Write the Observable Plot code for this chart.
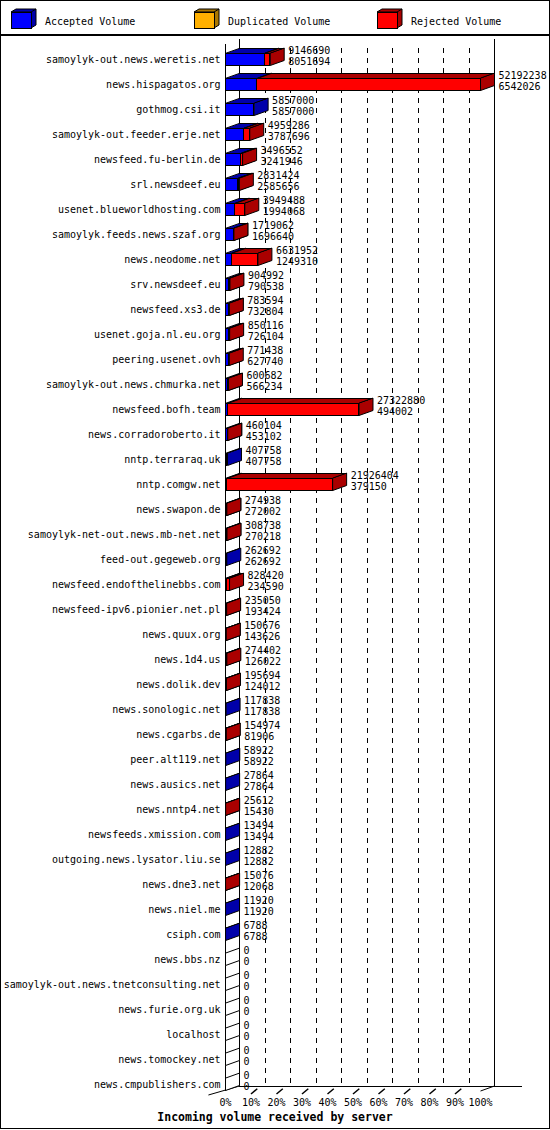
<!DOCTYPE html>
<html>
<head>
<meta charset="utf-8">
<script src="https://cdn.jsdelivr.net/npm/d3@7"></script>
<script src="https://cdn.jsdelivr.net/npm/@observablehq/plot@0.6"></script>
<style>
  body { margin: 0; background: #fff; font-family: "DejaVu Sans Mono", monospace; }
  #legend { width: 550px; height: 35px; box-sizing: border-box; border: 1px solid #000; }
  #legend svg { display: block; }
  #main { width: 550px; box-sizing: border-box; border: 1px solid #000; }
  #chart svg { display: block; }
  #title { height: 17px; line-height: 12px; text-align: center; font-weight: bold; font-size: 11.5px; }
</style>
</head>
<body>
<div id="legend"></div>
<div id="main">
  <div id="chart"></div>
  <div id="title">Incoming volume received by server</div>
</div>
<script>
const servers = [
    "samoylyk-out.news.weretis.net", "news.hispagatos.org", "gothmog.csi.it",
    "samoylyk-out.feeder.erje.net", "newsfeed.fu-berlin.de", "srl.newsdeef.eu",
    "usenet.blueworldhosting.com", "samoylyk.feeds.news.szaf.org", "news.neodome.net",
    "srv.newsdeef.eu", "newsfeed.xs3.de", "usenet.goja.nl.eu.org", "peering.usenet.ovh",
    "samoylyk-out.news.chmurka.net", "newsfeed.bofh.team", "news.corradoroberto.it",
    "nntp.terraraq.uk", "nntp.comgw.net", "news.swapon.de", "samoylyk-net-out.news.mb-net.net",
    "feed-out.gegeweb.org", "newsfeed.endofthelinebbs.com", "newsfeed-ipv6.pionier.net.pl",
    "news.quux.org", "news.1d4.us", "news.dolik.dev", "news.sonologic.net", "news.cgarbs.de",
    "peer.alt119.net", "news.ausics.net", "news.nntp4.net", "newsfeeds.xmission.com",
    "outgoing.news.lysator.liu.se", "news.dne3.net", "news.niel.me", "csiph.com",
    "news.bbs.nz", "samoylyk-out.news.tnetconsulting.net", "news.furie.org.uk",
    "localhost", "news.tomockey.net", "news.cmpublishers.com"
];
const totalVolume = [
    9146690, 52192238, 5857000, 4959286, 3496552, 2831424, 3949488, 1719062, 6631952,
    904992, 783594, 850116, 771438, 600682, 27322880, 460104, 407758, 21926404, 274938,
    308738, 262692, 828420, 235050, 150676, 274402, 195694, 117838, 154974, 58922, 27864,
    25612, 13494, 12882, 15076, 11920, 6788, 0, 0, 0, 0, 0, 0
];
const acceptedVolume = [
    8051694, 6542026, 5857000, 3787696, 3241946, 2585656, 1994068, 1696640, 1249310,
    790538, 732804, 726104, 627740, 566234, 494002, 453102, 407758, 379150, 272002,
    270218, 262692, 234590, 193424, 143626, 126022, 124012, 117838, 81906, 58922, 27864,
    15430, 13494, 12882, 12068, 11920, 6788, 0, 0, 0, 0, 0, 0
];
const percentTicks = [0, 10, 20, 30, 40, 50, 60, 70, 80, 90, 100];
const legendLabels = ["Accepted Volume", "Duplicated Volume", "Rejected Volume"];
const legendFront = ["#0000ff", "#ffb000", "#ff0000"];
const legendSide = ["#0000aa", "#aa7700", "#aa0000"];

// 3D look: depth of the bars in data units (14px across, 5px up)
const DX = 14 / 2.55;
const DY = 5 / 25;
const H = 0.24; // half bar thickness in rows
const floorFront = servers.length - 1 + H + 0.02;

const maxTotal = d3.max(totalVolume);
const rows = servers.map((name, i) => ({
    i,
    name,
    total: totalVolume[i],
    accepted: acceptedVolume[i],
    tot: (totalVolume[i] / maxTotal) * 100,
    acc: (acceptedVolume[i] / maxTotal) * 100,
}));

// split every server into its coloured segments
const segments = [];
rows.forEach((d) => {
    if (d.accepted > 0) segments.push({ i: d.i, x0: 0, x1: d.acc, kind: "acc" });
    if (d.total > d.accepted) segments.push({ i: d.i, x0: d.acc, x1: d.tot, kind: "rej" });
    if (d.total === 0) segments.push({ i: d.i, x0: 0, x1: 0, kind: "zero" });
});

function topFace(segs) {
    return segs.flatMap((s, k) => {
        const yt = s.i - H;
        return [
            { id: k, x: s.x0, y: yt },
            { id: k, x: s.x1, y: yt },
            { id: k, x: s.x1 + DX, y: yt - DY },
            { id: k, x: s.x0 + DX, y: yt - DY },
        ];
    });
}

function rightFace(segs) {
    return segs.flatMap((s, k) => {
        const yt = s.i - H;
        const yb = s.i + H;
        return [
            { id: k, x: s.x1, y: yt },
            { id: k, x: s.x1, y: yb },
            { id: k, x: s.x1 + DX, y: yb - DY },
            { id: k, x: s.x1 + DX, y: yt - DY },
        ];
    });
}

function barMarks(kind, front, side) {
    const segs = segments.filter((s) => s.kind === kind);
    const face = { x: "x", y: "y", z: "id", curve: "linear-closed", fill: side,
        stroke: "black", strokeWidth: 1, strokeLinejoin: "miter" };
    const marks = [];
    if (kind !== "zero") {
        marks.push(Plot.rect(segs, {
            x1: "x0", x2: "x1",
            y1: (d) => d.i - H, y2: (d) => d.i + H,
            fill: front, stroke: "black", strokeWidth: 1, shapeRendering: "crispEdges",
        }));
        marks.push(Plot.line(topFace(segs), face));
    }
    marks.push(Plot.line(rightFace(segs), face));
    return marks;
}

const chart = Plot.plot({
    width: 548,
    height: 1075,
    marginLeft: 224,
    marginRight: 69,
    marginTop: 23,
    marginBottom: 27,
    x: { domain: [0, 100], range: [224, 479], axis: null },
    y: { domain: [0, servers.length - 1], range: [23, 1048], axis: null },
    style: { fontFamily: "DejaVu Sans Mono", fontSize: "10px", background: "white", overflow: "visible" },
    marks: [
        // back wall grid
        Plot.ruleX(percentTicks.slice(1, -1), {
            y1: -0.25, y2: floorFront, dx: 14, dy: -5, stroke: "black",
            strokeDasharray: "5,5", shapeRendering: "crispEdges",
        }),
        Plot.ruleX([0, 100], {
            y1: -0.6, y2: floorFront, dx: 14, dy: -5, stroke: "black", shapeRendering: "crispEdges",
        }),
        // floor
        Plot.ruleY([floorFront], { x1: 0, x2: 111, dx: 14, dy: -5, stroke: "black", shapeRendering: "crispEdges" }),
        Plot.link([0], {
            x1: -6.7, y1: floorFront + 0.16, x2: DX, y2: floorFront - DY, stroke: "black",
        }),
        Plot.link([100], {
            x1: (d) => d, y1: floorFront, x2: (d) => d + DX, y2: floorFront - DY, stroke: "black",
        }),
        Plot.link(percentTicks.slice(1, -1), {
            x1: (d) => d, y1: floorFront + 0.12, x2: (d) => d + DX * 0.45, y2: floorFront - DY * 0.45,
            stroke: "black", strokeWidth: 1.5,
        }),
        // front wall line
        Plot.ruleX([0], { y1: -0.6, y2: floorFront, stroke: "black", shapeRendering: "crispEdges" }),

        ...barMarks("acc", "#0000ff", "#0000aa"),
        ...barMarks("rej", "#ff0000", "#aa0000"),
        ...barMarks("zero", "white", "white"),

        // values: total above, accepted below
        Plot.text(rows, {
            x: (d) => d.tot + DX, y: "i", text: (d) => String(d.total),
            dx: 4, dy: -8.5, textAnchor: "start", fill: "black",
        }),
        Plot.text(rows, {
            x: (d) => d.tot + DX, y: "i", text: (d) => String(d.accepted),
            dx: 4, dy: 2.5, textAnchor: "start", fill: "black",
        }),

        Plot.axisY({
            ticks: d3.range(servers.length), tickFormat: (i) => servers[i],
            tickSize: 0, tickPadding: 5, label: null, anchor: "left",
        }),
        Plot.axisX({
            ticks: percentTicks, tickFormat: (d) => d + "%",
            tickSize: 0, tickPadding: 14.5, label: null, anchor: "bottom",
        }),
    ],
});
document.querySelector("#chart").append(chart);

// legend with the same little 3D boxes
const legend = d3.create("svg").attr("width", 548).attr("height", 33);
legendLabels.forEach((label, k) => {
    const g = legend.append("g").attr("transform", `translate(${10 + k * 183},0)`);
    g.append("path")
        .attr("d", "M0,11L5,8L25,8L25,24L20,27L20,11Z")
        .attr("fill", legendSide[k]).attr("stroke", "black");
    g.append("path").attr("d", "M20,11L25,8").attr("stroke", "black");
    g.append("rect")
        .attr("x", 0).attr("y", 11).attr("width", 20).attr("height", 16)
        .attr("fill", legendFront[k]).attr("stroke", "black")
        .attr("shape-rendering", "crispEdges");
    g.append("text")
        .attr("x", 34).attr("y", 20).attr("dy", "0.35em")
        .attr("font-family", "DejaVu Sans Mono").attr("font-size", 10)
        .text(label);
});
document.querySelector("#legend").append(legend.node());
</script>
</body>
</html>
